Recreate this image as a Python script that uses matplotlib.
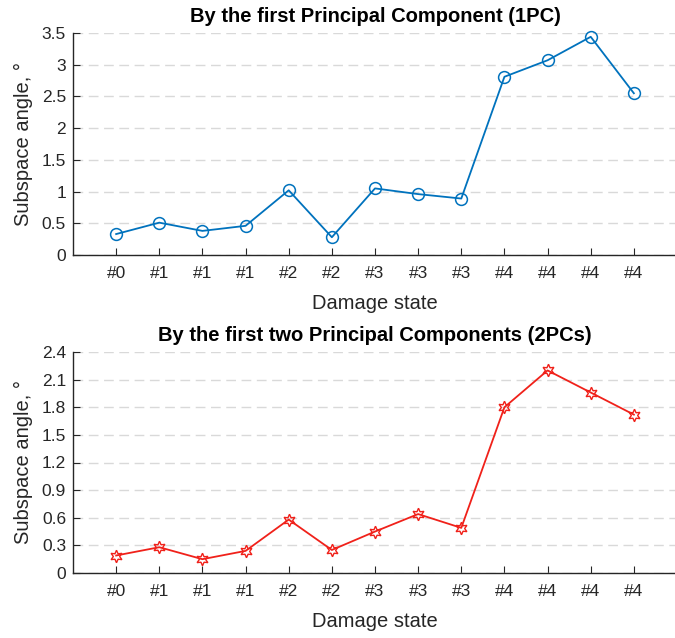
import matplotlib.pyplot as plt
import numpy as np

plt.rcParams['font.family'] = ['Liberation Sans', 'DejaVu Sans']

# Damage state labels for each case
states = ['#0', '#1', '#1', '#1', '#2', '#2', '#3', '#3', '#3', '#4', '#4', '#4', '#4']
# Subspace angles (degrees)
angle_1pc = [0.33, 0.51, 0.38, 0.46, 1.02, 0.28, 1.05, 0.96, 0.89, 2.81, 3.07, 3.44, 2.55]
angle_2pc = [0.19, 0.28, 0.15, 0.24, 0.58, 0.25, 0.45, 0.64, 0.49, 1.80, 2.20, 1.96, 1.72]

ticks_1pc = [0, 0.5, 1, 1.5, 2, 2.5, 3, 3.5]
ticks_2pc = [0, 0.3, 0.6, 0.9, 1.2, 1.5, 1.8, 2.1, 2.4]


def style_axes(ax, yticks, title):
    x = np.arange(1, len(states) + 1)
    ax.set_xlim(0, len(states) + 1)
    ax.set_xticks(x)
    ax.set_xticklabels(states)
    ax.set_ylim(yticks[0], yticks[-1])
    ax.set_yticks(yticks)
    ax.set_yticklabels([f'{t:g}' for t in yticks])
    ax.grid(axis='y', color='0.85', linestyle=(0, (7, 4)), linewidth=1)
    ax.set_axisbelow(True)
    for s in ['top', 'right']:
        ax.spines[s].set_visible(False)
    for s in ['left', 'bottom']:
        ax.spines[s].set_color('0.15')
        ax.spines[s].set_linewidth(1.0)
    ax.tick_params(direction='in', length=5, colors='0.15', labelsize=12.5,
                   labelcolor='0.15')
    ax.tick_params(axis='x', pad=8)
    ax.tick_params(axis='y', pad=5)
    ax.set_xlabel('Damage state', fontsize=14.5, color='0.15', labelpad=9)
    ax.set_ylabel('Subspace angle, °', fontsize=14.5, color='0.15', labelpad=6)
    ax.set_title(title, fontsize=14.5, fontweight='bold', pad=8)
    return x


fig = plt.figure(figsize=(6.75, 6.38), dpi=100)
ax1 = fig.add_axes([73 / 675, 1 - 255 / 638, 604 / 675, 222 / 638])
ax2 = fig.add_axes([73 / 675, 1 - 573 / 638, 604 / 675, 221 / 638])

x = style_axes(ax1, ticks_1pc, 'By the first Principal Component (1PC)')
ax1.plot(x, angle_1pc, color=(0, 0.447, 0.741), linewidth=1.3, marker='o',
         markersize=8.5, markerfacecolor='none', markeredgewidth=1.1, clip_on=False)

x = style_axes(ax2, ticks_2pc, 'By the first two Principal Components (2PCs)')
ax2.plot(x, angle_2pc, color='#f0211a', linewidth=1.3, marker=(6, 1, 0),
         markersize=9, markerfacecolor='none', markeredgewidth=1.0, clip_on=False)

fig.savefig('out.png', dpi=100)
